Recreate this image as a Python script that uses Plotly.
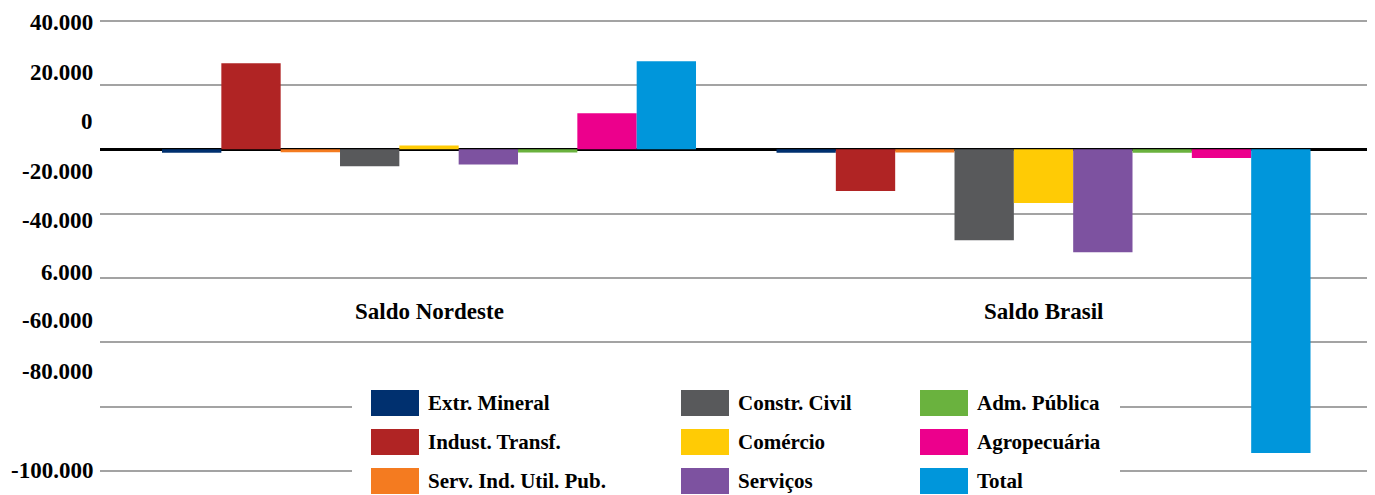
import plotly.graph_objects as go

# --- data ---
categories = ["Saldo Nordeste", "Saldo Brasil"]

series_names = [
    "Extr. Mineral", "Indust. Transf.", "Serv. Ind. Util. Pub.",
    "Constr. Civil", "Comércio", "Serviços",
    "Adm. Pública", "Agropecuária", "Total",
]
saldo_nordeste = [-1100, 26800, -900, -5300, 1200, -4700, -1000, 11200, 27400]
saldo_brasil = [-1100, -13000, -1000, -28300, -16700, -32000, -1100, -2700, -94500]

series_colors = [
    "#00306F", "#B02424", "#F47B20",
    "#58595B", "#FFCB05", "#7D52A0",
    "#6AB23E", "#EC008C", "#0096DB",
]

# tick labels as printed in the source (and where they sit)
ytick_text = ["40.000", "20.000", "0", "-20.000", "-40.000", "6.000", "-60.000", "-80.000", "-100.000"]
ytick_vals = [39400, 23800, 8600, -7000, -22000, -38300, -53400, -69000, -99800]

W, H = 1375, 495
OFF = 8  # page body margin around the plotly div
ML, MR, MT, MB = 92, 10, 0, 8
SERIF = "Liberation Serif, Times New Roman, serif"


def px_x(x):
    # page pixel -> paper x
    return (x - OFF - ML) / (W - ML - MR)


def px_y(y):
    # page pixel -> paper y
    return (H - MB - (y - OFF)) / (H - MT - MB)


fig = go.Figure()

for i, name in enumerate(series_names):
    fig.add_trace(
        go.Bar(
            x=categories,
            y=[saldo_nordeste[i], saldo_brasil[i]],
            name=name,
            marker=dict(color=series_colors[i], line=dict(width=0)),
            showlegend=False,
        )
    )

annotations = []
for txt, val in zip(ytick_text, ytick_vals):
    annotations.append(dict(
        x=px_x(95), xref="paper", xanchor="right",
        y=val, yref="y", yanchor="middle",
        text="<b>%s</b>" % txt, showarrow=False,
        font=dict(family=SERIF, size=23, color="black"),
    ))

for cat in categories:
    annotations.append(dict(
        x=cat, xref="x", y=-50300, yref="y",
        text="<b>%s</b>" % cat, showarrow=False,
        font=dict(family=SERIF, size=23, color="black"),
    ))

# --- legend drawn by hand (large swatches, three columns) ---
shapes = [dict(
    type="rect", xref="paper", yref="paper", layer="above",
    x0=px_x(352), x1=px_x(1120), y0=px_y(380), y1=px_y(H + 10),
    fillcolor="white", line=dict(width=0),
)]
col_x = [371, 681, 920]
row_y = [403, 442, 481]
for i, name in enumerate(series_names):
    cx = col_x[i // 3]
    cy = row_y[i % 3]
    shapes.append(dict(
        type="rect", xref="paper", yref="paper", layer="above",
        x0=px_x(cx), x1=px_x(cx + 48), y0=px_y(cy + 13), y1=px_y(cy - 13),
        fillcolor=series_colors[i], line=dict(width=0),
    ))
    annotations.append(dict(
        x=px_x(cx + 55), xref="paper", xanchor="left",
        y=px_y(cy), yref="paper", yanchor="middle",
        text="<b>%s</b>" % name, showarrow=False,
        font=dict(family=SERIF, size=21, color="black"),
    ))

# value scale: 20.000 per 64.3 px, zero at page y 149.3
top_val = (149.3 - (OFF + MT)) * 20000 / 64.3
bottom_val = (149.3 - (OFF + H - MB)) * 20000 / 64.3

fig.update_layout(
    width=W,
    height=H,
    margin=dict(l=ML, r=MR, t=MT, b=MB),
    paper_bgcolor="white",
    plot_bgcolor="white",
    barmode="group",
    bargap=0.131,
    bargroupgap=0,
    showlegend=False,
    xaxis=dict(
        range=[-0.5354, 1.5313 + 3 / 614.5],
        showticklabels=False,
        showgrid=False,
        zeroline=False,
        showline=False,
    ),
    yaxis=dict(
        range=[bottom_val, top_val],
        tick0=0,
        dtick=20000,
        showticklabels=False,
        showgrid=True,
        gridcolor="#A3A3A3",
        gridwidth=2,
        zeroline=True,
        zerolinecolor="black",
        zerolinewidth=3,
        showline=False,
    ),
    annotations=annotations,
    shapes=shapes,
)

fig.write_html("out.html")
